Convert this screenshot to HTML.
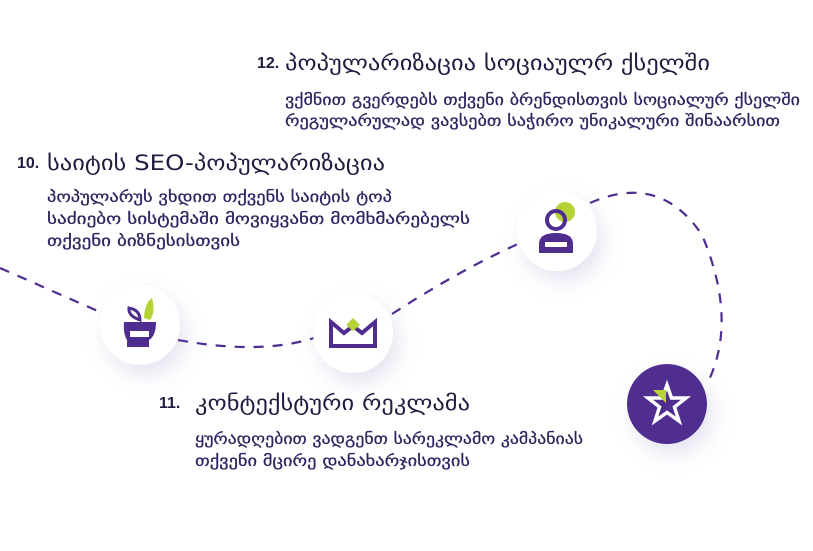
<!DOCTYPE html>
<html><head><meta charset="utf-8"><style>
html,body{margin:0;padding:0;background:#fff;width:813px;height:551px;overflow:hidden}
svg{display:block}
text{font-family:"DejaVu Sans","Liberation Sans",sans-serif}
.t{fill:#24193f;font-size:21px}
.n{fill:#24193f;font-size:16px;font-weight:bold;font-family:"Liberation Sans",sans-serif}
.b{fill:#2f2360;font-size:15px;stroke:#2f2360;stroke-width:0.25}
</style></head><body>
<svg width="813" height="551" viewBox="0 0 813 551" xmlns="http://www.w3.org/2000/svg">
<defs>
<filter id="sh" x="-60%" y="-60%" width="220%" height="220%">
<feDropShadow dx="6" dy="10" stdDeviation="10" flood-color="#8a86c0" flood-opacity="0.22"/>
</filter>
</defs>
<g fill="none" stroke="#4f2d8f" stroke-width="2.2" stroke-dasharray="10 9">
<path d="M0 268 Q50 290 100 312"/>
<path d="M178 340 Q260 355 314 338"/>
<path d="M392 314 Q460 270 518 244"/>
<path d="M590 203 Q660 172 702 235 Q738 320 708 382"/>
</g>
<circle cx="140" cy="325" r="40" fill="#fff" filter="url(#sh)"/>
<circle cx="353" cy="333" r="40" fill="#fff" filter="url(#sh)"/>
<circle cx="557" cy="231" r="40" fill="#fff" filter="url(#sh)"/>
<circle cx="667" cy="404" r="40" fill="#4f2d8f" filter="url(#sh)"/>
<!-- plant -->
<path d="M144 318 Q145 302 152 298 Q156 312 150 320 Z" fill="#b5d334"/>
<path d="M140 320 Q128 316 129 308 Q140 310 140 320 Z" fill="none" stroke="#4f2d8f" stroke-width="3"/>
<path d="M124 322 H156 Q156 336 149 340 V347 H127 V340 Q123 334 124 322 Z" fill="#4f2d8f"/>
<rect x="130" y="331" width="19" height="6" fill="#fff"/>
<!-- envelope -->
<path d="M331 322 L344 333 L353 326 L362 333 L375 322 V346 H331 Z" fill="none" stroke="#4f2d8f" stroke-width="4" stroke-linejoin="miter"/>
<path d="M346 325 L353 318 L360 325 L353 331 Z" fill="#b5d334"/>
<!-- person -->
<circle cx="565" cy="212" r="10" fill="#b5d334"/>
<circle cx="556" cy="220" r="9" fill="none" stroke="#4f2d8f" stroke-width="4"/>
<path d="M539 253 V244 Q539 233 556 233 Q573 233 573 244 V253 Z" fill="#4f2d8f"/>
<rect x="545" y="242" width="22" height="5" fill="#fff"/>
<!-- star -->
<path d="M667 385 L671.5 398 L686 398 L674.5 407 L679 421 L667 412.5 L655 421 L659.5 407 L648 398 L662.5 398 Z" fill="none" stroke="#fff" stroke-width="3.5" stroke-linejoin="miter"/>
<path d="M653 390 L666 390 L666 403 Z" fill="#b5d334"/>
<!-- text 12 -->
<text class="n" x="257" y="68">12.</text>
<text class="t" x="285" y="70" textLength="425" lengthAdjust="spacingAndGlyphs">პოპულარიზაცია სოციაულრ ქსელში</text>
<text class="b" x="285" y="105" textLength="515" lengthAdjust="spacingAndGlyphs">ვქმნით გვერდებს თქვენი ბრენდისთვის სოციალურ ქსელში</text>
<text class="b" x="285" y="126" textLength="495" lengthAdjust="spacingAndGlyphs">რეგულარულად ვავსებთ საჭირო უნიკალური შინაარსით</text>
<!-- text 10 -->
<text class="n" x="17" y="168">10.</text>
<text class="t" x="47" y="170" textLength="338" lengthAdjust="spacingAndGlyphs">საიტის SEO-პოპულარიზაცია</text>
<text class="b" x="47" y="202" textLength="345" lengthAdjust="spacingAndGlyphs">პოპულარუს ვხდით თქვენს საიტის ტოპ</text>
<text class="b" x="47" y="224" textLength="423" lengthAdjust="spacingAndGlyphs">საძიებო სისტემაში მოვიყვანთ მომხმარებელს</text>
<text class="b" x="47" y="246" textLength="193" lengthAdjust="spacingAndGlyphs">თქვენი ბიზნესისთვის</text>
<!-- text 11 -->
<text class="n" x="159" y="408">11.</text>
<text class="t" x="195" y="410" textLength="275" lengthAdjust="spacingAndGlyphs">კონტექსტური რეკლამა</text>
<text class="b" x="195" y="444" textLength="388" lengthAdjust="spacingAndGlyphs">ყურადღებით ვადგენთ სარეკლამო კამპანიას</text>
<text class="b" x="195" y="466" textLength="275" lengthAdjust="spacingAndGlyphs">თქვენი მცირე დანახარჯისთვის</text>
</svg>
</body></html>
